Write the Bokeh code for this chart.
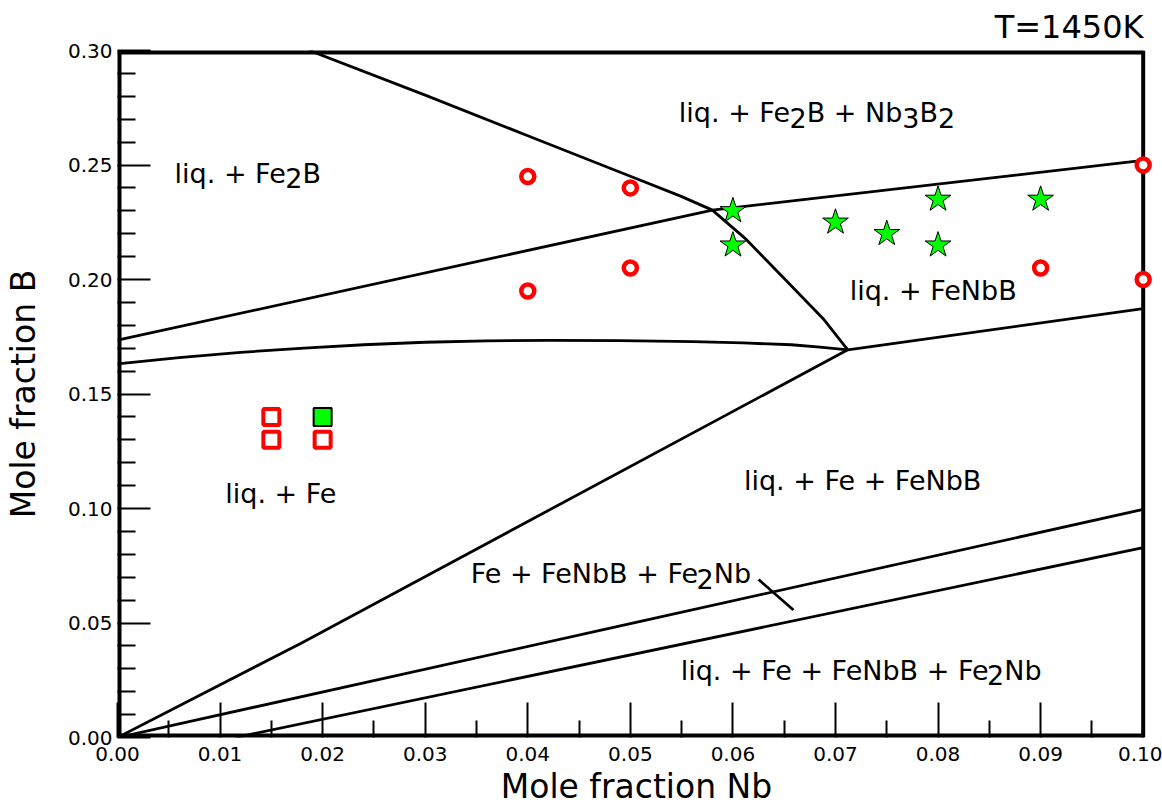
import re
from bokeh.plotting import figure
from bokeh.models import Range1d, FixedTicker, ColumnDataSource, NumeralTickFormatter
from bokeh.core.properties import value
from bokeh.embed import file_html
from bokeh.resources import INLINE

FONT = "DejaVu Sans"

# ---------------- data (x = mole fraction Nb, y = mole fraction B) ----------------
x_ticks = [0.00, 0.01, 0.02, 0.03, 0.04, 0.05, 0.06, 0.07, 0.08, 0.09, 0.10]
x_minor = [0.005, 0.015, 0.025, 0.035, 0.045, 0.055, 0.065, 0.075, 0.085, 0.095]
y_ticks = [0.00, 0.05, 0.10, 0.15, 0.20, 0.25, 0.30]
y_minor = [0.01, 0.02, 0.03, 0.04, 0.06, 0.07, 0.08, 0.09, 0.11, 0.12, 0.13, 0.14,
           0.16, 0.17, 0.18, 0.19, 0.21, 0.22, 0.23, 0.24, 0.26, 0.27, 0.28, 0.29]

# phase boundaries
bnd_a_x = [0.0187, 0.0300, 0.0400, 0.0500, 0.0549, 0.0580, 0.0613, 0.0650, 0.0688, 0.0712]
bnd_a_y = [0.3000, 0.2805, 0.2628, 0.2451, 0.2364, 0.2303, 0.2175, 0.2004, 0.1829, 0.1693]
bnd_b_x = [0.0000, 0.0580, 0.1000]
bnd_b_y = [0.1735, 0.2303, 0.2520]
bnd_c_x = [0.0000, 0.0060, 0.0120, 0.0182, 0.0240, 0.0300, 0.0360, 0.0420, 0.0490, 0.0561,
           0.0610, 0.0657, 0.0685, 0.0712]
bnd_c_y = [0.1632, 0.1659, 0.1682, 0.1700, 0.1715, 0.1726, 0.1732, 0.1734, 0.1733, 0.1729,
           0.1723, 0.1715, 0.1705, 0.1693]
bnd_d_x = [0.0712, 0.1000]
bnd_d_y = [0.1693, 0.1873]
bnd_e_x = [0.0000, 0.0179, 0.0712]
bnd_e_y = [0.0000, 0.0412, 0.1693]
bnd_f_x = [0.0000, 0.0500, 0.1000]
bnd_f_y = [0.0000, 0.0497, 0.0996]
bnd_g_x = [0.0115, 0.1000]
bnd_g_y = [0.0000, 0.0829]
leader_x = [0.0625, 0.0659]
leader_y = [0.0690, 0.0557]

# experimental points
circ_x = [0.04, 0.05, 0.04, 0.05, 0.09, 0.10, 0.10]
circ_y = [0.245, 0.240, 0.195, 0.205, 0.205, 0.250, 0.200]
star_x = [0.06, 0.06, 0.07, 0.075, 0.08, 0.08, 0.09]
star_y = [0.230, 0.215, 0.225, 0.220, 0.235, 0.215, 0.235]
osq_x = [0.015, 0.015, 0.020]
osq_y = [0.140, 0.130, 0.130]
gsq_x = [0.020]
gsq_y = [0.140]

# region labels ("_n" marks a subscript digit)
reg_text = ["liq. + Fe_2B", "liq. + Fe_2B + Nb_3B_2", "liq. + FeNbB", "liq. + Fe",
            "liq. + Fe + FeNbB", "Fe + FeNbB + Fe_2Nb", "liq. + Fe + FeNbB + Fe_2Nb"]
reg_x = [0.0127, 0.0682, 0.0795, 0.0159, 0.0726, 0.0481, 0.0725]
reg_y = [0.2465, 0.2728, 0.1950, 0.1066, 0.1123, 0.0715, 0.0294]

title_text = "T=1450K"
x_title = "Mole fraction Nb"
y_title = "Mole fraction B"

X0, X1 = 0.0, 0.1
Y0, Y1 = 0.0, 0.30

# ---------------- figure ----------------
p = figure(width=1162, height=808, min_border_left=117, min_border_right=7,
           min_border_top=50, min_border_bottom=71,
           x_range=Range1d(X0, X1 + 0.0012), y_range=Range1d(Y0, Y1),
           output_backend="svg", toolbar_location=None,
           background_fill_color="white", border_fill_color="white")
p.outline_line_color = None
p.xgrid.visible = False
p.ygrid.visible = False

p.title.text = title_text
p.title.align = "right"
p.title.offset = 12
p.title.standoff = 10
p.title.text_font = FONT
p.title.text_font_size = "32px"
p.title.text_font_style = "normal"
p.title.text_color = "black"

for ax, ticks, minor, tin, tmin, standoff, lab, lstand in (
        (p.xaxis[0], x_ticks, x_minor, 35, 17, 9, x_title, 3),
        (p.yaxis[0], y_ticks, y_minor, 33, 18, 5, y_title, 22)):
    ax.ticker = FixedTicker(ticks=ticks, minor_ticks=minor)
    ax.formatter = NumeralTickFormatter(format="0.00")
    ax.axis_line_color = None
    ax.major_tick_in = tin
    ax.major_tick_out = 0
    ax.minor_tick_in = tmin
    ax.minor_tick_out = 0
    ax.major_tick_line_width = 2
    ax.minor_tick_line_width = 2
    ax.major_tick_line_color = "black"
    ax.minor_tick_line_color = "black"
    ax.major_label_text_font = FONT
    ax.major_label_text_font_size = "20px"
    ax.major_label_text_color = "black"
    ax.major_label_standoff = standoff
    ax.axis_label = lab
    ax.axis_label_text_font = FONT
    ax.axis_label_text_font_size = "33px"
    ax.axis_label_text_font_style = "normal"
    ax.axis_label_text_color = "black"
    ax.axis_label_standoff = lstand

# frame border
p.segment(x0=[X0, X0, X0, X1], y0=[Y0, Y1, Y0, Y0], x1=[X1, X1, X0, X1], y1=[Y0, Y1, Y1, Y1],
          line_color="black", line_width=[8, 8, 8, 4])

# phase boundaries
for bx, by in ((bnd_a_x, bnd_a_y), (bnd_b_x, bnd_b_y), (bnd_c_x, bnd_c_y), (bnd_d_x, bnd_d_y),
               (bnd_e_x, bnd_e_y), (bnd_f_x, bnd_f_y), (bnd_g_x, bnd_g_y), (leader_x, leader_y)):
    p.line(bx, by, line_color="black", line_width=2.8, line_join="round")

# markers
p.scatter(circ_x, circ_y, marker="circle", size=13, fill_color="white", line_color="#ff0000", line_width=4.5)
p.scatter(star_x, star_y, marker="star", size=27, fill_color="#00ff00", line_color="black", line_width=1)
p.scatter(osq_x, osq_y, marker="square", size=16, fill_color="white", line_color="#ff0000", line_width=4)
p.scatter(gsq_x, gsq_y, marker="square", size=18, fill_color="#00ff00", line_color="black", line_width=2)

# region labels, subscripts drawn as lowered full-size digits
LABEL_PX = 27
ADV = {' ': 651, '+': 1716, '.': 651, '2': 1303, '3': 1303, 'B': 1405, 'F': 1178,
       'N': 1532, 'b': 1300, 'e': 1260, 'i': 569, 'l': 569, 'q': 1300}
KERN = {('F', 'e'): -150}


def text_width(s):
    units = sum(ADV.get(c, 1250) for c in s)
    units += sum(KERN.get((a, b), 0) for a, b in zip(s, s[1:]))
    return units / 2048.0 * LABEL_PX


cols = dict(x=[], y=[], t=[], xo=[], yo=[])
for lab, lx, ly in zip(reg_text, reg_x, reg_y):
    parts = re.split(r"_(\d)", lab)
    segs = [(s, i % 2 == 1) for i, s in enumerate(parts) if s]
    total = sum(text_width(s) for s, _ in segs)
    cur = -total / 2.0
    for s, sub in segs:
        cols["x"].append(lx)
        cols["y"].append(ly)
        cols["t"].append(s)
        cols["xo"].append(cur)
        cols["yo"].append(5 if sub else 0)
        cur += text_width(s)

src = ColumnDataSource(cols)
p.text(x="x", y="y", text="t", x_offset="xo", y_offset="yo", source=src,
       text_font=value(FONT), text_font_size=f"{LABEL_PX}px",
       text_align="left", text_baseline="middle", text_color="black")

open("out.html", "w").write(file_html(p, INLINE))
